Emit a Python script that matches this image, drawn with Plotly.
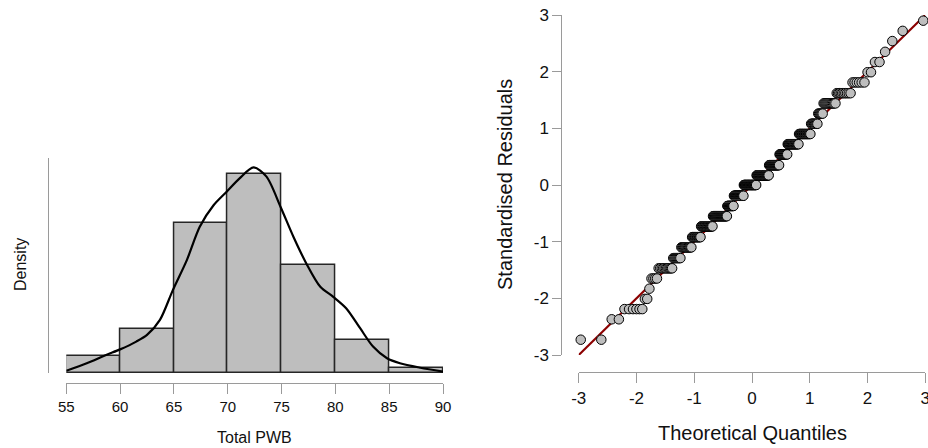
import plotly.graph_objects as go
from statistics import NormalDist

# ---------------- data ----------------
# Histogram of Total PWB (bin edges and counts)
bin_left = [55, 60, 65, 70, 75, 80, 85]
bin_width = 5
bin_counts = [10, 26, 89, 118, 64, 20, 3]

# Density curve
dens_x = [55.0, 56.9, 58.7, 60.0, 61.5, 62.5, 63.7, 64.9, 66.2, 67.4, 68.7,
          69.9, 71.1, 72.4, 73.6, 74.9, 76.1, 77.3, 78.6, 79.8, 81.0, 82.3,
          83.5, 84.8, 86.0, 87.9, 90.0]
dens_y = [0.0009, 0.0036, 0.0066, 0.0086, 0.0114, 0.0138, 0.0192, 0.0299,
          0.0407, 0.0527, 0.0605, 0.0653, 0.0701, 0.0740, 0.0707, 0.0599,
          0.0491, 0.0395, 0.0311, 0.0275, 0.0234, 0.0162, 0.0096, 0.0054,
          0.0036, 0.0020, 0.0006]

# Q-Q plot: standardised residual levels and number of cases at each level
resid_levels = [-2.73, -2.37, -2.19, -2.01, -1.83, -1.65, -1.47, -1.29, -1.10,
                -0.92, -0.73, -0.55, -0.37, -0.19, 0.00, 0.17, 0.35, 0.54,
                0.72, 0.90, 1.08, 1.26, 1.44, 1.62, 1.81, 1.99, 2.17, 2.35,
                2.54, 2.72, 2.90]
resid_counts = [2, 2, 6, 2, 1, 4, 11, 8, 13, 13, 20, 28, 14, 22, 29, 28, 22,
                16, 20, 18, 9, 6, 12, 10, 6, 2, 2, 1, 1, 1, 1]

hist_ticks = [55, 60, 65, 70, 75, 80, 85, 90]
qq_ticks = [-3, -2, -1, 0, 1, 2, 3]
qq_ticktext = ["-3", "-2", "-1", "0", "1", "2", "3"]

# ---------------- derived ----------------
n_total = sum(bin_counts)
bin_centers = [b + bin_width / 2 for b in bin_left]
bin_density = [c / (n_total * bin_width) for c in bin_counts]

resid = []
for lv, c in zip(resid_levels, resid_counts):
    resid += [lv] * c
n = len(resid)
nd = NormalDist()
theo = [nd.inv_cdf((i - 0.5) / n) for i in range(1, n + 1)]

W, H = 928, 448
FONT = "Arial, Liberation Sans, sans-serif"
AXC = "#9a9a9a"

def px(x):
    return x / W

def py(y):
    return 1 - y / H

fig = go.Figure()

fig.add_trace(go.Bar(
    x=bin_centers, y=bin_density, width=bin_width,
    marker=dict(color="#bebebe", line=dict(color="#262626", width=1.5)),
    xaxis="x", yaxis="y", showlegend=False))
fig.add_trace(go.Scatter(
    x=dens_x, y=dens_y, mode="lines", line=dict(color="black", width=2.2, shape="spline", smoothing=0.8),
    xaxis="x", yaxis="y", showlegend=False, cliponaxis=False))

fig.add_trace(go.Scatter(
    x=[-3, 3], y=[-3, 3], mode="lines", line=dict(color="#8b0000", width=2.2),
    xaxis="x2", yaxis="y2", showlegend=False))
fig.add_trace(go.Scatter(
    x=theo, y=resid, mode="markers",
    marker=dict(size=9.5, color="#bebebe", line=dict(color="black", width=1)),
    xaxis="x2", yaxis="y2", showlegend=False, cliponaxis=False))

tickfont_l = dict(family=FONT, size=15, color="#111")
tickfont_r = dict(family=FONT, size=17, color="#111")

fig.update_layout(
    width=W, height=H,
    margin=dict(l=0, r=0, t=0, b=0, autoexpand=False),
    paper_bgcolor="white", plot_bgcolor="white",
    bargap=0,
    xaxis=dict(domain=[px(66.3), px(443)], range=[55, 90], anchor="free",
               position=py(383.3), tickvals=hist_ticks, ticks="outside",
               ticklen=10, tickcolor=AXC, tickwidth=1, showline=True,
               linecolor=AXC, linewidth=1, showgrid=False, zeroline=False,
               tickfont=tickfont_l, automargin=False, ticklabeloverflow="allow"),
    yaxis=dict(domain=[py(373.3), py(158)], range=[0, 0.0774], anchor="free",
               position=px(47.7), showticklabels=False, ticks="",
               showline=True, linecolor=AXC, linewidth=1, showgrid=False,
               zeroline=False, automargin=False),
    xaxis2=dict(domain=[px(578.7), px(925.3)], range=[-3, 3], anchor="free",
                position=py(372.3), tickvals=qq_ticks, ticktext=qq_ticktext,
                ticks="outside", ticklen=10, tickcolor=AXC, tickwidth=1,
                showline=True, linecolor=AXC, linewidth=1, showgrid=False,
                zeroline=False, tickfont=tickfont_r, automargin=False,
                ticklabeloverflow="allow"),
    yaxis2=dict(domain=[py(355), py(15)], range=[-3, 3], anchor="free",
                position=px(561.3), tickvals=qq_ticks, ticktext=qq_ticktext,
                ticks="outside", ticklen=9, tickcolor=AXC, tickwidth=1,
                showline=True, linecolor=AXC, linewidth=1, showgrid=False,
                zeroline=False, tickfont=tickfont_r, automargin=False,
                ticklabeloverflow="allow"),
    annotations=[
        dict(text="Total PWB", x=px(254), y=py(437), xref="paper", yref="paper",
             xanchor="center", yanchor="middle",
             showarrow=False, font=dict(family=FONT, size=16, color="#111")),
        dict(text="Density", x=px(20), y=py(265), xref="paper", yref="paper",
             xanchor="center", yanchor="middle",
             showarrow=False, textangle=-90, font=dict(family=FONT, size=16, color="#111")),
        dict(text="Theoretical Quantiles", x=px(752), y=py(433), xref="paper", yref="paper",
             xanchor="center", yanchor="middle",
             showarrow=False, font=dict(family=FONT, size=20, color="#111")),
        dict(text="Standardised Residuals", x=px(505), y=py(185), xref="paper", yref="paper",
             xanchor="center", yanchor="middle",
             showarrow=False, textangle=-90, font=dict(family=FONT, size=20, color="#111")),
    ],
)

fig.write_html("out.html", config={"displayModeBar": False},
               post_script="document.body.style.margin='0';document.body.style.overflow='hidden';")
